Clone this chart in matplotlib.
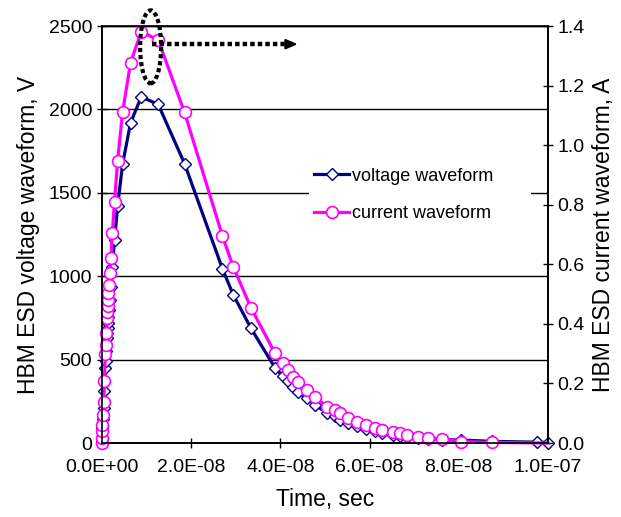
import matplotlib
matplotlib.use("Agg")
import matplotlib.pyplot as plt
from matplotlib.patches import Ellipse
from matplotlib.ticker import FuncFormatter

plt.rcParams['font.family'] = ['Liberation Sans', 'DejaVu Sans']

# time samples, ns
t_volt = [0, 0.02, 0.05, 0.1, 0.25, 0.4, 0.55, 0.7, 0.85, 1.0,
          1.15, 1.2, 1.25, 1.3, 1.4, 1.55, 1.75, 2.0, 2.3, 2.8,
          3.5, 4.6, 6.4, 8.8, 12.6, 18.5, 27.0, 29.4, 33.4, 38.8,
          40.6, 41.8, 42.9, 44.0, 45.9, 47.8, 50.4, 52.2, 53.4, 55.2,
          57.1, 59.3, 61.2, 62.7, 65.3, 66.8, 68.3, 70.9, 73.2, 76.2,
          80.4, 87.4, 97.5, 100]
volt = [0, 10, 30, 90, 141, 208, 313, 448, 493, 552,
        630, 660, 690, 720, 753, 795, 855, 933, 1056, 1215,
        1422, 1670, 1920, 2075, 2030, 1675, 1045, 890, 688, 450,
        400, 370, 335, 305, 270, 228, 180, 160, 140, 118,
        100, 85, 70, 58, 50, 45, 38, 32, 27, 20,
        18, 10, 5, 3]

t_curr = [0, 0.02, 0.05, 0.1, 0.25, 0.4, 0.55, 0.7, 0.85, 1.0,
          1.15, 1.2, 1.25, 1.3, 1.4, 1.55, 1.75, 2.0, 2.3, 2.8,
          3.5, 4.6, 6.4, 8.8, 12.6, 18.5, 27.0, 29.4, 33.4, 38.8,
          40.6, 41.8, 42.9, 44.0, 45.9, 47.8, 50.4, 52.2, 53.4, 55.2,
          57.1, 59.3, 61.2, 62.7, 65.3, 66.8, 68.3, 70.9, 73.2, 76.2,
          80.4, 87.4, 100]
curr = [0, 0.017, 0.04, 0.06, 0.094, 0.139, 0.209, 0.299, 0.329, 0.368,
        0.42, 0.44, 0.46, 0.48, 0.502, 0.53, 0.57, 0.622, 0.704, 0.81,
        0.948, 1.11, 1.277, 1.381, 1.353, 1.11, 0.695, 0.592, 0.454, 0.301,
        0.268, 0.245, 0.223, 0.206, 0.178, 0.155, 0.122, 0.111, 0.10, 0.083,
        0.072, 0.060, 0.049, 0.043, 0.038, 0.033, 0.027, 0.021, 0.018, 0.013,
        0.005, 0.002, 0.0]

x_ticks = [0, 2e-8, 4e-8, 6e-8, 8e-8, 1e-7]
v_ticks = [0, 500, 1000, 1500, 2000, 2500]
i_ticks = [0.0, 0.2, 0.4, 0.6, 0.8, 1.0, 1.2, 1.4]

tv = [t * 1e-9 for t in t_volt]
ti = [t * 1e-9 for t in t_curr]

fig = plt.figure(figsize=(6.21, 5.17), dpi=100)
ax1 = fig.add_axes([0.1643, 0.1431, 0.7181, 0.8066])
ax2 = ax1.twinx()

ax1.set_xlim(0, 1e-7)
ax1.set_ylim(0, 2500)
ax2.set_ylim(0, 1.4)

for y in v_ticks[1:]:
    ax1.axhline(y, color='black', lw=1, zorder=0)

l1, = ax1.plot(tv, volt, color='#000080', lw=2.3, marker='D', ms=6.5,
               mfc='white', mec='#000080', mew=1.0, clip_on=False,
               label='voltage waveform')
l2, = ax2.plot(ti, curr, color='#ff00ff', lw=2.3, marker='o', ms=8.5,
               mfc='white', mec='#ff00ff', mew=1.2, clip_on=False,
               markevery=list(range(len(curr) - 1)),
               label='current waveform')

ax1.set_xticks(x_ticks)
ax1.xaxis.set_major_formatter(FuncFormatter(lambda x, p: format(x, '.1E')))
ax1.set_yticks(v_ticks)
ax2.set_yticks(i_ticks)
ax2.yaxis.set_major_formatter(FuncFormatter(lambda x, p: f"{x:.1f}"))

for ax in (ax1, ax2):
    ax.tick_params(direction='inout', length=7, width=1, labelsize=14,
                   color='black')
    for s in ax.spines.values():
        s.set_linewidth(1.2)
ax1.tick_params(axis='x', pad=8)
ax1.spines['top'].set_linewidth(1)

ax1.set_xlabel('Time, sec', fontsize=16.5, labelpad=9)
ax1.set_ylabel('HBM ESD voltage waveform, V', fontsize=16.5, labelpad=6)
ax2.set_ylabel('HBM ESD current waveform, A', fontsize=16.5, labelpad=5)

# dotted ellipse round the current peak and dotted arrow to the right axis
ax2.add_patch(Ellipse((1.09e-8, 1.33), 4.7e-9, 0.245, fill=False,
                      ec='black', lw=3, ls=(0, (1, 0.7)), clip_on=False,
                      zorder=5))
ax2.plot([1.12e-8, 4.25e-8], [1.339, 1.339], color='black', lw=3.2,
         ls=(0, (1, 0.7)), zorder=5)
ax2.annotate('', xy=(4.45e-8, 1.339), xytext=(4.2e-8, 1.339),
             arrowprops=dict(arrowstyle='-|>,head_length=0.7,head_width=0.3',
                             color='black', lw=1.5), zorder=5)

leg = ax2.legend(handles=[l1, l2], loc='center left',
                 bbox_to_anchor=(0.444, 0.5, 0.538, 0.19), mode='expand',
                 frameon=True, fancybox=False, fontsize=13,
                 handlelength=1.9, handletextpad=0.2, labelspacing=1.15,
                 borderpad=0.3)
leg.get_frame().set_facecolor('white')
leg.get_frame().set_edgecolor('none')
leg.get_frame().set_alpha(1)

fig.savefig('out.png', dpi=100)
